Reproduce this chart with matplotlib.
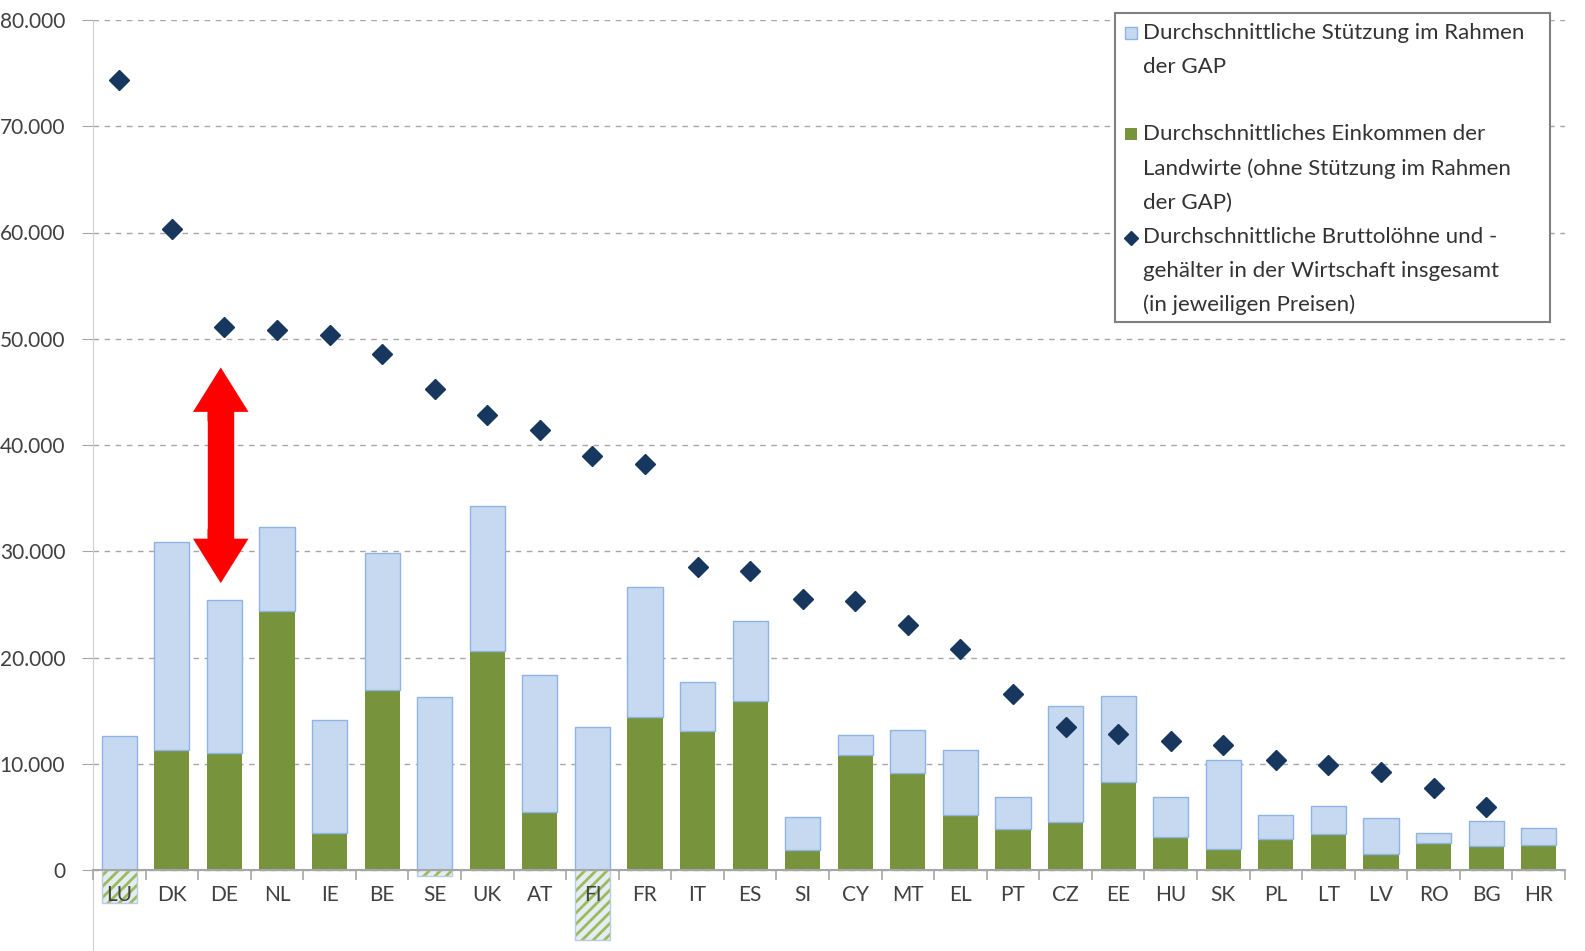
import numpy as np
import matplotlib

matplotlib.use("Agg")
import matplotlib.pyplot as plt  # noqa: E402
from matplotlib.lines import Line2D  # noqa: E402
from matplotlib.patches import Rectangle  # noqa: E402
from matplotlib.ticker import FuncFormatter, MultipleLocator  # noqa: E402

plt.rcParams["font.family"] = ["Lato", "DejaVu Sans"]
plt.rcParams["hatch.linewidth"] = 2.0

# ---- data (EUR per worker) ----
countries = ["LU", "DK", "DE", "NL", "IE", "BE", "SE", "UK", "AT", "FI",
             "FR", "IT", "ES", "SI", "CY", "MT", "EL", "PT", "CZ", "EE",
             "HU", "SK", "PL", "LT", "LV", "RO", "BG", "HR"]
# farm income without CAP support (green, may be negative)
income = [-3100, 11300, 11000, 24400, 3500, 16900, -600, 20600, 5500, -6600,
          14400, 13100, 15900, 1900, 10800, 9100, 5200, 3900, 4500, 8300,
          3100, 2000, 2900, 3400, 1500, 2500, 2300, 2400]
# CAP support (light blue, stacked on top of positive income)
support = [12600, 19600, 14400, 7900, 10600, 12900, 16300, 13700, 12900, 13500,
           12200, 4600, 7500, 3100, 1900, 4100, 6100, 3000, 10900, 8100,
           3800, 8400, 2300, 2600, 3400, 1000, 2300, 1600]
# average gross wages in the whole economy (diamonds)
wages = [74400, 60300, 51100, 50800, 50400, 48600, 45300, 42800, 41400, 39000,
         38200, 28500, 28100, 25500, 25300, 23100, 20800, 16600, 13500, 12800,
         12100, 11800, 10400, 9900, 9200, 7700, 5900, np.nan]
# red double arrow marking the gap at DE
arrow_x = 1.93
arrow_lo, arrow_hi = 27000, 47300

legend_labels = [
    ["Durchschnittliche Stützung im Rahmen", "der GAP"],
    ["Durchschnittliches Einkommen der", "Landwirte (ohne Stützung im Rahmen", "der GAP)"],
    ["Durchschnittliche Bruttolöhne und -", "gehälter in der Wirtschaft insgesamt",
     "(in jeweiligen Preisen)"],
]

BLUE = "#c6d9f1"
BLUE_EDGE = "#8eb4e3"
GREEN = "#77933c"
NAVY = "#17375e"
GRID = "#a6a6a6"
TXT = "#404040"
RED = "#ff0000"

W, H = 1585, 951
fig = plt.figure(figsize=(W / 100, H / 100), dpi=100)
ax = fig.add_axes([93 / W, 0, (1565 - 93) / W, (H - 20) / H])

x = np.arange(len(countries))
inc = np.array(income, dtype=float)
sup = np.array(support, dtype=float)
pos = np.clip(inc, 0, None)
neg = np.clip(inc, None, 0)
bw = 0.67

ax.bar(x, pos, bw, color=GREEN, edgecolor="none", zorder=3)
ax.bar(x, sup, bw, bottom=pos, color=BLUE, edgecolor=BLUE_EDGE, linewidth=1.0, zorder=3)
# negative income: hatched
ax.bar(x, neg, bw, color="#e4ecf5", edgecolor="#9bbb59", hatch="///", linewidth=0, zorder=3)
ax.bar(x, neg, bw, color="none", edgecolor="#b8cce4", linewidth=1.0, zorder=3)

ax.plot(x, wages, linestyle="none", marker="D", markersize=10,
        color=NAVY, markeredgecolor=NAVY, zorder=4)

# double-headed arrow: a thick shaft plus two arrow heads
span = arrow_hi - arrow_lo
ax.vlines(arrow_x, arrow_lo + 0.15 * span, arrow_hi - 0.15 * span, color=RED,
          linewidth=19, capstyle="butt", zorder=5)
astyle = "simple,head_width=4.0,head_length=3.2,tail_width=1.9"
for start, end in ((arrow_hi - 0.25 * span, arrow_hi), (arrow_lo + 0.25 * span, arrow_lo)):
    ax.annotate("", xy=(arrow_x, end), xytext=(arrow_x, start),
                arrowprops=dict(arrowstyle=astyle, mutation_scale=10,
                                color=RED, lw=0, shrinkA=0, shrinkB=0),
                zorder=5)

# axes styling
ax.set_xlim(-0.5, len(countries) - 0.5)
ax.set_ylim((870 - H) / 10.625 * 1000, 80000)
ax.set_yticks(range(0, 80001, 10000))
ax.yaxis.set_major_formatter(FuncFormatter(lambda v, _: f"{v:,.0f}".replace(",", ".")))
ax.yaxis.grid(True, linestyle=(0, (4, 4)), color=GRID, linewidth=1.0, zorder=0)
ax.tick_params(axis="y", length=8, color=GRID, labelsize=15, labelcolor=TXT, pad=12)

ax.spines[["top", "right"]].set_visible(False)
ax.spines["left"].set_color("#d0d0d0")
ax.spines["bottom"].set_position(("data", 0))
ax.spines["bottom"].set_color(GRID)
ax.spines["bottom"].set_linewidth(1.5)
ax.spines["bottom"].set_zorder(3.5)
ax.set_xticks(x)
ax.set_xticklabels(countries)
ax.xaxis.set_minor_locator(MultipleLocator(1, offset=0.5))
ax.tick_params(axis="x", which="major", length=0, labelsize=15, labelcolor=TXT, pad=11)
ax.tick_params(axis="x", which="minor", length=7, color=GRID, width=1.2)
ax.xaxis.set_zorder(4.5)  # country labels sit on top of the hatched bars

# legend box drawn by hand to mimic the layout
fig.patches.append(Rectangle((1115 / W, 1 - 322 / H), 435 / W, 309 / H,
                             transform=fig.transFigure, facecolor="white",
                             edgecolor="#7f7f7f", linewidth=1.5, zorder=10))
line_y = [[33, 67], [134, 169, 203], [237, 271, 305]]
for lines, ys in zip(legend_labels, line_y):
    for t, yy in zip(lines, ys):
        fig.text(1143 / W, 1 - yy / H, t, fontsize=16, color="#333333", va="center",
                 ha="left", zorder=11)
fig.patches.append(Rectangle((1125 / W, 1 - 39 / H), 12 / W, 12 / H,
                             transform=fig.transFigure, facecolor=BLUE,
                             edgecolor=BLUE_EDGE, linewidth=1, zorder=11))
fig.patches.append(Rectangle((1125 / W, 1 - 140 / H), 12 / W, 12 / H,
                             transform=fig.transFigure, facecolor=GREEN,
                             edgecolor="none", zorder=11))
fig.lines.append(Line2D([1131 / W], [1 - 238 / H], marker="D", markersize=7,
                        color=NAVY, transform=fig.transFigure, zorder=11))

fig.savefig("out.png", dpi=100)
